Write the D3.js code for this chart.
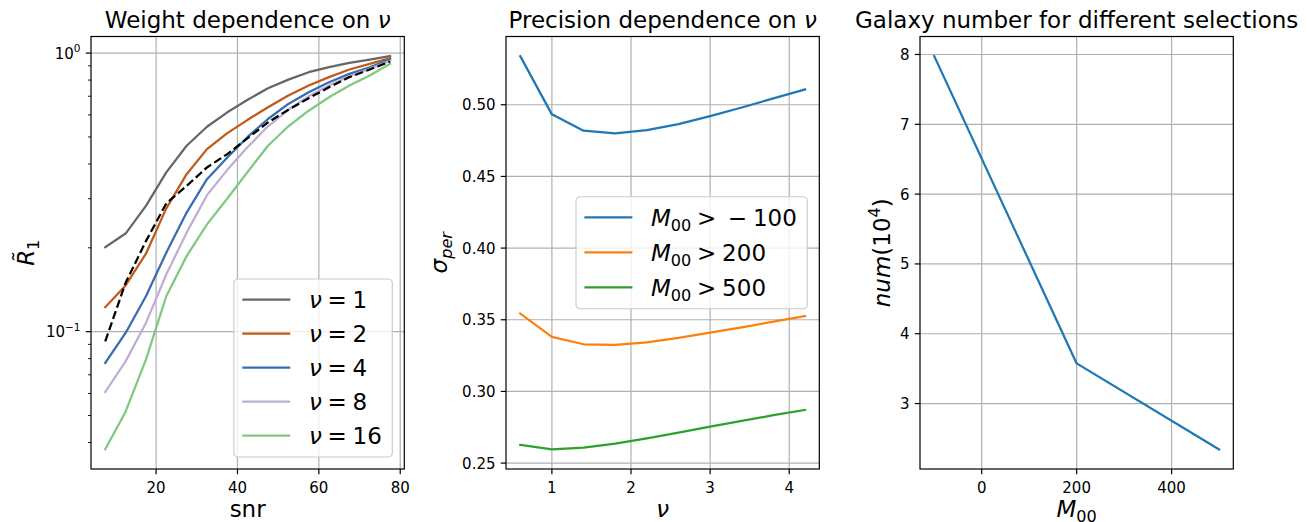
<!DOCTYPE html>
<html>
<head>
<meta charset="utf-8">
<script src="https://cdn.jsdelivr.net/npm/d3@7"></script>
<style>
  body { margin: 0; background: #fff; }
  text { font-family: "DejaVu Sans", sans-serif; fill: #000; }
</style>
</head>
<body>
<svg id="fig" width="1309" height="522"></svg>
<script>
// ---- Panel 1: response weight R1 versus snr for several nu ----
const snr = [7.5, 12.5, 17.5, 22.5, 27.5, 32.5, 37.5, 42.5, 47.5, 52.5, 57.5, 62.5, 67.5, 72.5, 77.5];
const nuLabels = ["1", "2", "4", "8", "16"];
const r1Nu1  = [0.201, 0.225, 0.283, 0.373, 0.465, 0.544, 0.613, 0.680, 0.748, 0.803, 0.854, 0.890, 0.923, 0.948, 0.975];
const r1Nu2  = [0.1224, 0.1465, 0.1905, 0.277, 0.3675, 0.452, 0.516, 0.576, 0.639, 0.704, 0.765, 0.820, 0.873, 0.915, 0.959];
const r1Nu4  = [0.0772, 0.0989, 0.134, 0.192, 0.2676, 0.3527, 0.422, 0.500, 0.580, 0.657, 0.724, 0.786, 0.842, 0.890, 0.948];
const r1Nu8  = [0.0607, 0.0782, 0.1075, 0.1604, 0.2267, 0.309, 0.381, 0.460, 0.546, 0.626, 0.700, 0.765, 0.826, 0.878, 0.938];
const r1Nu16 = [0.0378, 0.0516, 0.0793, 0.134, 0.1867, 0.2428, 0.3006, 0.3747, 0.465, 0.546, 0.621, 0.694, 0.765, 0.831, 0.915];
const r1Ref  = [0.0923, 0.1497, 0.2114, 0.2886, 0.3337, 0.3886, 0.4339, 0.495, 0.564, 0.626, 0.689, 0.754, 0.820, 0.873, 0.933];
const nuColors = ["#666666", "#bf5b17", "#386cb0", "#beaed4", "#7fc97f"];
const snrTicks = [20, 40, 60, 80];

// ---- Panel 2: shear precision versus nu for three M00 cuts ----
const nuGrid = [0.6, 1.0, 1.4, 1.8, 2.2, 2.6, 3.0, 3.4, 3.8, 4.2];
const sigmaCutM100 = [0.5339, 0.4933, 0.4819, 0.4800, 0.4823, 0.4865, 0.4921, 0.4981, 0.5044, 0.5107];
const sigmaCut200  = [0.3543, 0.3380, 0.3329, 0.3324, 0.3343, 0.3373, 0.3410, 0.3447, 0.3487, 0.3526];
const sigmaCut500  = [0.2627, 0.2596, 0.2608, 0.2636, 0.2673, 0.2713, 0.2755, 0.2794, 0.2834, 0.2871];
const cutLabels = ["\u2005\u2212\u2005100", "200", "500"];
const cutColors = ["#1f77b4", "#ff7f0e", "#2ca02c"];
const nuTicks = [1, 2, 3, 4];
const sigmaTicks = [0.25, 0.30, 0.35, 0.40, 0.45, 0.50];

// ---- Panel 3: galaxy count for each cut ----
const m00Cut = [-100, 200, 500];
const galaxyNum = [7.976, 3.575, 2.344];
const m00Ticks = [0, 200, 400];
const numTicks = [3, 4, 5, 6, 7, 8];

// ---- layout / style ----
const svg = d3.select("#fig");
const TOP = 36.5, BOTTOM = 469;
const TICK_FS = 15, LABEL_FS = 23;
const GRID = "#b0b0b0";
const LW = 2.25;
const SP = "\u2005"; // math-style spacing around relations

function padded(vals, frac = 0.05) {
  const [a, b] = d3.extent(vals);
  const m = (b - a) * frac;
  return [a - m, b + m];
}

// text made of plain / italic / sub / superscript runs
function rich(sel, parts, size) {
  let shift = 0;
  parts.forEach(p => {
    const ts = sel.append("tspan").text(p.t);
    if (p.it) ts.style("font-style", "italic");
    const target = p.sub ? size * 0.22 : p.sup ? -size * 0.42 : 0;
    if (target !== shift) { ts.attr("dy", target - shift); shift = target; }
    if (p.sub || p.sup) ts.style("font-size", (size * 0.7) + "px");
  });
  return sel;
}

function panel(left, right, title, xScale, yScale) {
  const g = svg.append("g");
  xScale.range([left, right]);
  yScale.range([BOTTOM, TOP]);
  g.append("text")
    .attr("x", (left + right) / 2).attr("y", 27.5)
    .attr("text-anchor", "middle").style("font-size", LABEL_FS + "px")
    .call(s => rich(s, title, LABEL_FS));
  return { g, left, right, x: xScale, y: yScale,
           grid: g.append("g"), marks: g.append("g"), frame: g.append("g"), over: g.append("g") };
}

function xTicks(p, ticks, fmt) {
  ticks.forEach(t => {
    const xx = p.x(t);
    p.grid.append("line").attr("x1", xx).attr("x2", xx).attr("y1", TOP).attr("y2", BOTTOM)
      .attr("stroke", GRID).attr("stroke-width", 1.2);
    p.frame.append("line").attr("x1", xx).attr("x2", xx).attr("y1", BOTTOM).attr("y2", BOTTOM + 5.25)
      .attr("stroke", "#000").attr("stroke-width", 1.2);
    p.frame.append("text").attr("x", xx).attr("y", 492.5).attr("text-anchor", "middle")
      .style("font-size", TICK_FS + "px").text(fmt(t));
  });
}

function yTicks(p, ticks, parts) {
  ticks.forEach(t => {
    const yy = p.y(t);
    p.grid.append("line").attr("x1", p.left).attr("x2", p.right).attr("y1", yy).attr("y2", yy)
      .attr("stroke", GRID).attr("stroke-width", 1.2);
    p.frame.append("line").attr("x1", p.left - 5.25).attr("x2", p.left).attr("y1", yy).attr("y2", yy)
      .attr("stroke", "#000").attr("stroke-width", 1.2);
    p.frame.append("text").attr("x", p.left - 10.5).attr("y", yy + TICK_FS * 0.365)
      .attr("text-anchor", "end").style("font-size", TICK_FS + "px")
      .call(s => rich(s, parts(t), TICK_FS));
  });
}

function spines(p) {
  p.frame.append("rect").attr("x", p.left).attr("y", TOP)
    .attr("width", p.right - p.left).attr("height", BOTTOM - TOP)
    .attr("fill", "none").attr("stroke", "#000").attr("stroke-width", 1.2);
}

function axisLabels(p, xParts, yParts, yLabelX) {
  p.frame.append("text").attr("x", (p.left + p.right) / 2).attr("y", 516.5)
    .attr("text-anchor", "middle").style("font-size", LABEL_FS + "px")
    .call(s => rich(s, xParts, LABEL_FS));
  p.frame.append("text")
    .attr("transform", `translate(${yLabelX},${(TOP + BOTTOM) / 2}) rotate(-90)`)
    .attr("text-anchor", "middle").style("font-size", LABEL_FS + "px")
    .call(s => rich(s, yParts, LABEL_FS));
}

function drawLine(p, xs, ys, color, dash) {
  const line = d3.line().x(d => p.x(d[0])).y(d => p.y(d[1]));
  p.marks.append("path").attr("d", line(xs.map((v, i) => [v, ys[i]])))
    .attr("fill", "none").attr("stroke", color).attr("stroke-width", LW)
    .attr("stroke-linejoin", "round").attr("stroke-linecap", dash ? "butt" : "square")
    .attr("stroke-dasharray", dash || null);
}

function legend(p, entries, rowGap, anchor) {
  const fs = LABEL_FS;
  const lg = p.over.append("g");
  const box = lg.append("rect").attr("rx", 4).attr("ry", 4)
    .attr("fill", "#fff").attr("fill-opacity", 0.8)
    .attr("stroke", "#cccccc").attr("stroke-width", 1.2);
  const handleX0 = 8.4, handleLen = 48, textX = handleX0 + handleLen + 18.6;
  const firstRow = 20.5;
  let maxW = 0;
  entries.forEach((e, i) => {
    const cy = firstRow + i * rowGap;
    lg.append("line").attr("x1", handleX0).attr("x2", handleX0 + handleLen)
      .attr("y1", cy).attr("y2", cy).attr("stroke", e.color).attr("stroke-width", LW);
    const t = lg.append("text").attr("x", textX).attr("y", cy + fs * 0.36)
      .style("font-size", fs + "px").call(s => rich(s, e.parts, fs));
    maxW = Math.max(maxW, t.node().getComputedTextLength());
  });
  const w = textX + maxW + 10.5;
  const h = firstRow * 2 + (entries.length - 1) * rowGap + 1;
  box.attr("width", w).attr("height", h);
  const pad = 12;
  const lx = p.right - pad - w;
  const ly = anchor === "lower" ? BOTTOM - pad - h : (TOP + BOTTOM) / 2 - h / 2;
  lg.attr("transform", `translate(${lx},${ly})`);
}

// ===== Panel 1 =====
const p1 = panel(91, 404.3,
  [{ t: "Weight dependence on " }, { t: "\u03bd", it: true }],
  d3.scaleLinear().domain(padded(snr)),
  d3.scaleLog().domain((() => {
    const all = [].concat(r1Nu1, r1Nu2, r1Nu4, r1Nu8, r1Nu16, r1Ref).map(Math.log10);
    return padded(all).map(v => Math.pow(10, v));
  })()));
xTicks(p1, snrTicks, d3.format("d"));
yTicks(p1, [0.1, 1], t => [{ t: "10" }, { t: t === 1 ? "0" : "\u22121", sup: true }]);
// minor log ticks
[0.01, 0.1].forEach(dec => {
  d3.range(2, 10).forEach(k => {
    const v = k * dec;
    const [lo, hi] = p1.y.domain();
    if (v < lo || v > hi) return;
    const yy = p1.y(v);
    p1.frame.append("line").attr("x1", p1.left - 3).attr("x2", p1.left).attr("y1", yy).attr("y2", yy)
      .attr("stroke", "#000").attr("stroke-width", 0.9);
  });
});
[r1Nu1, r1Nu2, r1Nu4, r1Nu8, r1Nu16].forEach((s, i) => drawLine(p1, snr, s, nuColors[i]));
drawLine(p1, snr, r1Ref, "#000", "8.3,3.6");
spines(p1);
axisLabels(p1, [{ t: "snr" }], [{ t: "R\u0303", it: true }, { t: "1", sub: true }], 33.5);
legend(p1, nuLabels.map((l, i) => ({ color: nuColors[i],
  parts: [{ t: "\u03bd", it: true }, { t: SP + "=" + SP + l }] })), 34, "lower");

// ===== Panel 2 =====
const p2 = panel(506, 819.3,
  [{ t: "Precision dependence on " }, { t: "\u03bd", it: true }],
  d3.scaleLinear().domain(padded(nuGrid)),
  d3.scaleLinear().domain(padded([].concat(sigmaCutM100, sigmaCut200, sigmaCut500))));
xTicks(p2, nuTicks, d3.format("d"));
yTicks(p2, sigmaTicks, t => [{ t: d3.format(".2f")(t) }]);
[sigmaCutM100, sigmaCut200, sigmaCut500].forEach((s, i) => drawLine(p2, nuGrid, s, cutColors[i]));
spines(p2);
axisLabels(p2, [{ t: "\u03bd", it: true }], [{ t: "\u03c3", it: true }, { t: "per", sub: true, it: true }], 447);
legend(p2, cutLabels.map((l, i) => ({ color: cutColors[i],
  parts: [{ t: "M", it: true }, { t: "00", sub: true }, { t: SP + ">" + SP + l }] })), 35, "center");

// ===== Panel 3 =====
const p3 = panel(920, 1233.3,
  [{ t: "Galaxy number for different selections" }],
  d3.scaleLinear().domain(padded(m00Cut)),
  d3.scaleLinear().domain(padded(galaxyNum)));
xTicks(p3, m00Ticks, d3.format("d"));
yTicks(p3, numTicks, t => [{ t: String(t) }]);
drawLine(p3, m00Cut, galaxyNum, "#1f77b4");
spines(p3);
axisLabels(p3, [{ t: "M", it: true }, { t: "00", sub: true }],
  [{ t: "num", it: true }, { t: "(10" }, { t: "4", sup: true }, { t: ")" }], 889.5);
</script>
</body>
</html>
